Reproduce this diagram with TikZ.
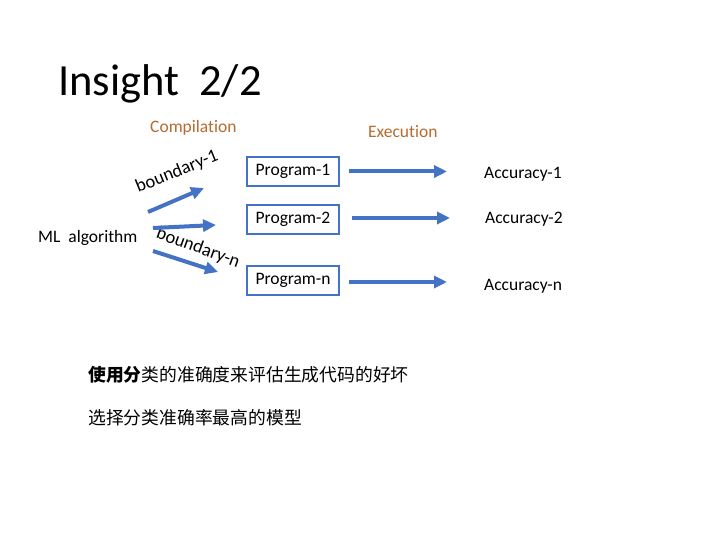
\documentclass[tikz,border=0pt]{standalone}
\usepackage{fontspec}
\setmainfont[Ligatures=NoCommon]{Carlito}
\newfontfamily\cjk{Noto Sans CJK SC}
\usetikzlibrary{arrows.meta}
\definecolor{bl}{HTML}{4472C4}
\definecolor{br}{HTML}{B86B2F}
\tikzset{
	prog/.style={draw=bl,line width=1.6pt,minimum width=92pt,minimum height=29pt,inner sep=0pt,font=\fontsize{17.5}{19}\selectfont},
	txt/.style={anchor=base west,inner sep=0pt,font=\fontsize{17.5}{19}\selectfont},
	blarrow/.style={draw=bl,line width=4pt,-{Triangle[length=13pt,width=12pt]}}
}
\begin{document}
\begin{tikzpicture}[x=1pt,y=-1pt,line cap=butt]
		\useasboundingbox[fill=white] (0,0) rectangle (720,540);
		\node[anchor=base west,inner sep=0pt,font=\fontsize{44.5}{48}\selectfont] (title) at (58,96) {Insight\ \ 2/2};
		\node[txt,text=br] (comp) at (150,133) {Compilation};
		\node[txt,text=br] (exec) at (368,138) {Execution};
		\node[txt] (ml) at (38,242) {ML\ \ algorithm};
		\node[anchor=center,inner sep=0pt,rotate=22,font=\fontsize{18.5}{20}\selectfont] (bd1) at (177,172) {boundary-1};
		\node[anchor=center,inner sep=0pt,rotate=-20,font=\fontsize{18.5}{20}\selectfont] (bdn) at (198,248) {boundary-n};
		\node[prog] (p1) at (293,171.5) {Program-1};
		\node[prog] (p2) at (293,219.5) {Program-2};
		\node[prog] (pn) at (293,280.5) {Program-n};
		\node[txt] (a1) at (484,179) {Accuracy-1};
		\node[txt] (a2) at (485,224) {Accuracy-2};
		\node[txt] (an) at (484,290) {Accuracy-n};
		\coordinate (s1) at (148,212);
		\coordinate (e1) at (204,188);
		\coordinate (s2) at (153,228);
		\coordinate (e2) at (216,225);
		\coordinate (s3) at (153,251);
		\coordinate (e3) at (218,272);
		\draw[blarrow] (s1) -- (e1);
		\draw[blarrow] (s2) -- (e2);
		\draw[blarrow] (s3) -- (e3);
		\draw[blarrow] ([xshift=9pt]p1.east) -- ([xshift=-37pt]p1.east -| a1.west);
		\draw[blarrow] ([xshift=12pt,yshift=1.5pt]p2.east) -- ([xshift=-35pt,yshift=1.5pt]p2.east -| a2.west);
		\draw[blarrow] ([xshift=9pt,yshift=-1.5pt]pn.east) -- ([xshift=-37pt,yshift=-1.5pt]pn.east -| an.west);
		\node[anchor=base west,inner sep=0pt,font=\cjk\fontsize{17.8}{20}\selectfont] (l1) at (88,381) {{\bfseries 使用分}类的准确度来评估生成代码的好坏};
		\node[anchor=base west,inner sep=0pt,font=\cjk\fontsize{17.8}{20}\selectfont] (l2) at (88,424) {选择分类准确率最高的模型};
	\end{tikzpicture}
\end{document}
